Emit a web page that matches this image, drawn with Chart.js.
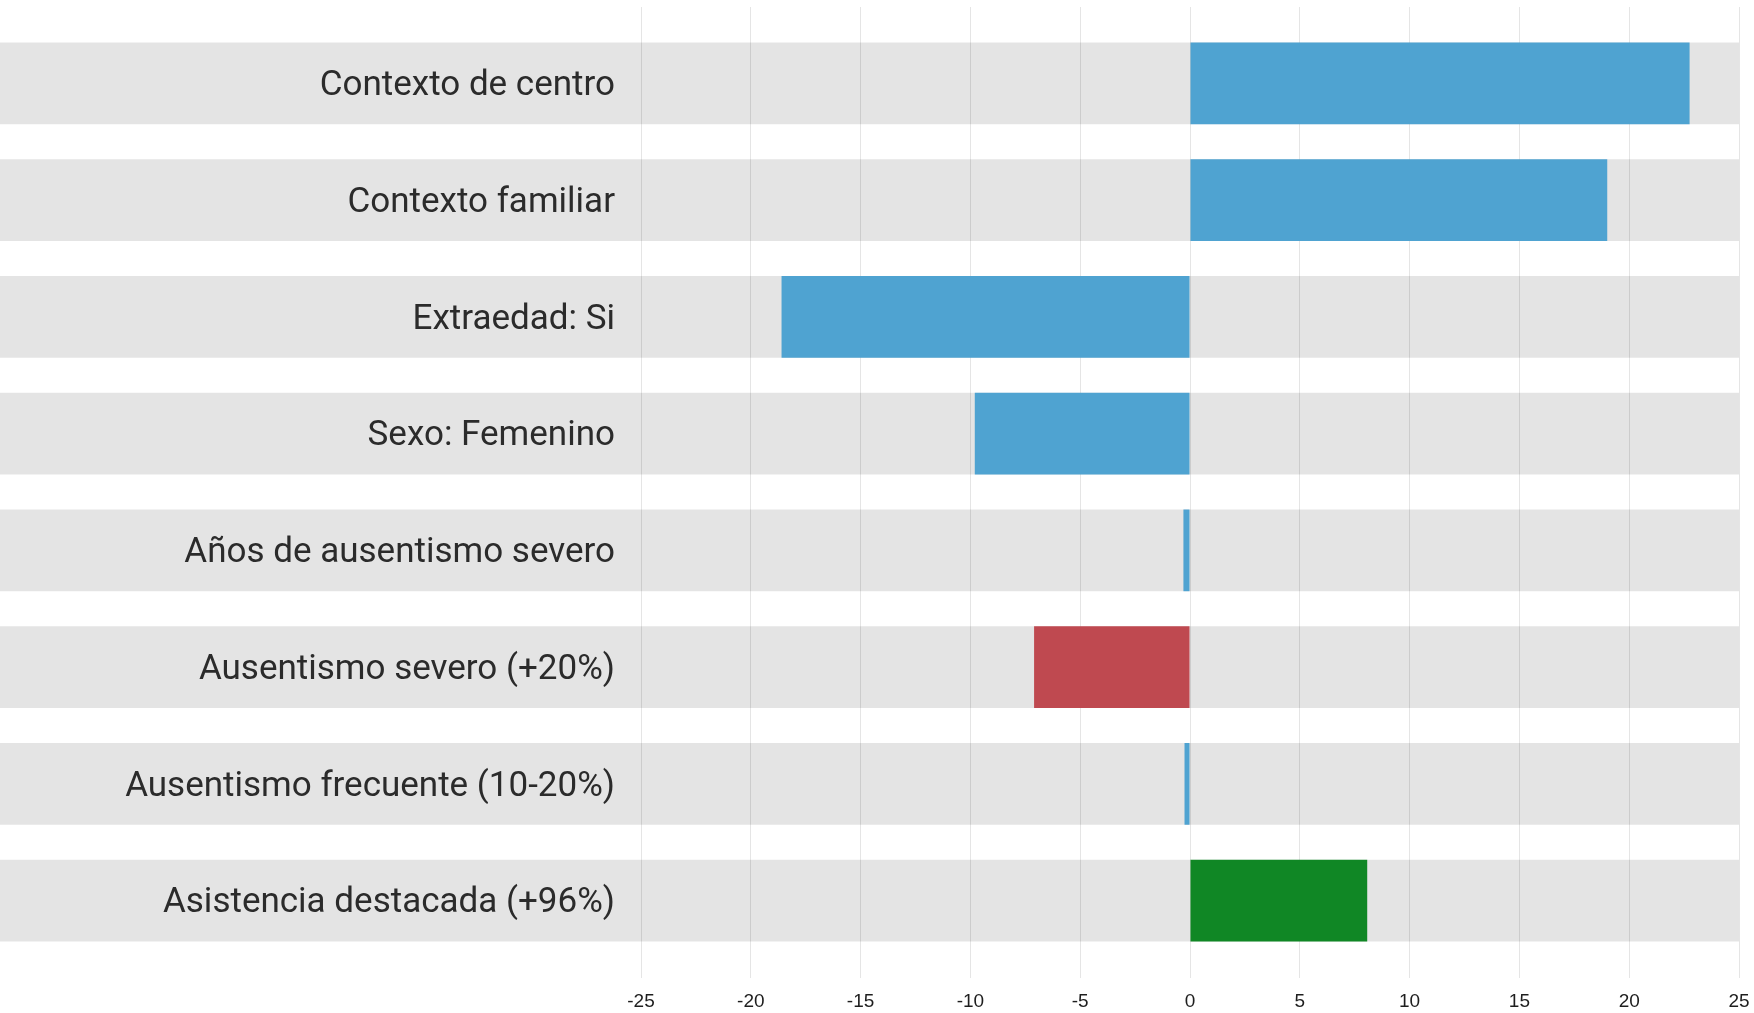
<!DOCTYPE html>
<html>
<head>
<meta charset="utf-8">
<script src="https://cdn.jsdelivr.net/npm/chart.js@4/dist/chart.umd.min.js"></script>
<style>
  html, body { margin: 0; padding: 0; background: #ffffff; }
  #wrap { width: 1754px; height: 1013px; }
</style>
</head>
<body>
<div id="wrap"><canvas id="c" width="1754" height="1013"></canvas></div>
<script>
// ---- data ----
const categories = [
  "Contexto de centro",
  "Contexto familiar",
  "Extraedad: Si",
  "Sexo: Femenino",
  "Años de ausentismo severo",
  "Ausentismo severo (+20%)",
  "Ausentismo frecuente (10-20%)",
  "Asistencia destacada (+96%)"
];
const values = [22.75, 19.0, -18.6, -9.8, -0.3, -7.1, -0.25, 8.07];
const xTickValues = [-25, -20, -15, -10, -5, 0, 5, 10, 15, 20, 25];

// ---- styles ----
const BLUE = "#4fa3d1", RED = "#bf4950", GREEN = "#108725";
const barColors = [BLUE, BLUE, BLUE, BLUE, BLUE, RED, BLUE, GREEN];
const BAND = "#e4e4e4";
const GRID = "rgba(0,0,0,0.10)";
const BAR_FRACTION = 0.70;

const bandPlugin = {
  id: "bands",
  beforeDraw(chart) {
    const ys = chart.scales.y, xs = chart.scales.x;
    const ctx = chart.ctx;
    const step = ys.height / categories.length;
    const h = step * BAR_FRACTION;
    ctx.save();
    ctx.fillStyle = BAND;
    categories.forEach((c, i) => {
      const y = ys.getPixelForValue(i);
      ctx.fillRect(0, y - h / 2, xs.right, h);
    });
    ctx.restore();
  }
};

new Chart(document.getElementById("c"), {
  type: "bar",
  data: {
    labels: categories,
    datasets: [{
      data: values,
      backgroundColor: barColors,
      borderWidth: 0,
      categoryPercentage: 1.0,
      barPercentage: BAR_FRACTION
    }]
  },
  plugins: [bandPlugin],
  options: {
    indexAxis: "y",
    responsive: false,
    devicePixelRatio: 1,
    animation: false,
    layout: { padding: { left: 0, right: 15, top: 7, bottom: 0 } },
    plugins: { legend: { display: false }, tooltip: { enabled: false } },
    scales: {
      x: {
        type: "linear",
        position: "bottom",
        min: -25, max: 25,
        z: 1,
        afterBuildTicks: (s) => { s.ticks = xTickValues.map(v => ({ value: v })); },
        afterFit: (s) => { s.paddingLeft = 0; s.paddingRight = 0; s.height = 54; },
        ticks: {
          stepSize: 5,
          padding: 12,
          color: "#1e1e1e",
          font: { family: "Liberation Sans", size: 19 }
        },
        grid: { color: GRID, lineWidth: 1, tickLength: 19, drawTicks: true },
        border: { display: false }
      },
      xTop: {
        type: "linear",
        position: "top",
        axis: "x",
        min: -25, max: 25,
        z: 1,
        afterBuildTicks: (s) => { s.ticks = xTickValues.map(v => ({ value: v })); },
        afterFit: (s) => { s.paddingLeft = 0; s.paddingRight = 0; s.height = 18; },
        ticks: { display: false },
        grid: { color: GRID, lineWidth: 1, tickLength: 18, drawTicks: true, drawOnChartArea: false },
        border: { display: false }
      },
      y: {
        type: "category",
        offset: true,
        afterFit: (s) => { s.width = 641; s.paddingTop = 0; s.paddingBottom = 0; },
        ticks: {
          padding: 26,
          labelOffset: 3,
          autoSkip: false,
          color: "#2b2b2b",
          font: { family: "Roboto", size: 35, weight: "400" }
        },
        grid: { display: false, drawTicks: false },
        border: { display: false }
      }
    }
  }
});
</script>
</body>
</html>
